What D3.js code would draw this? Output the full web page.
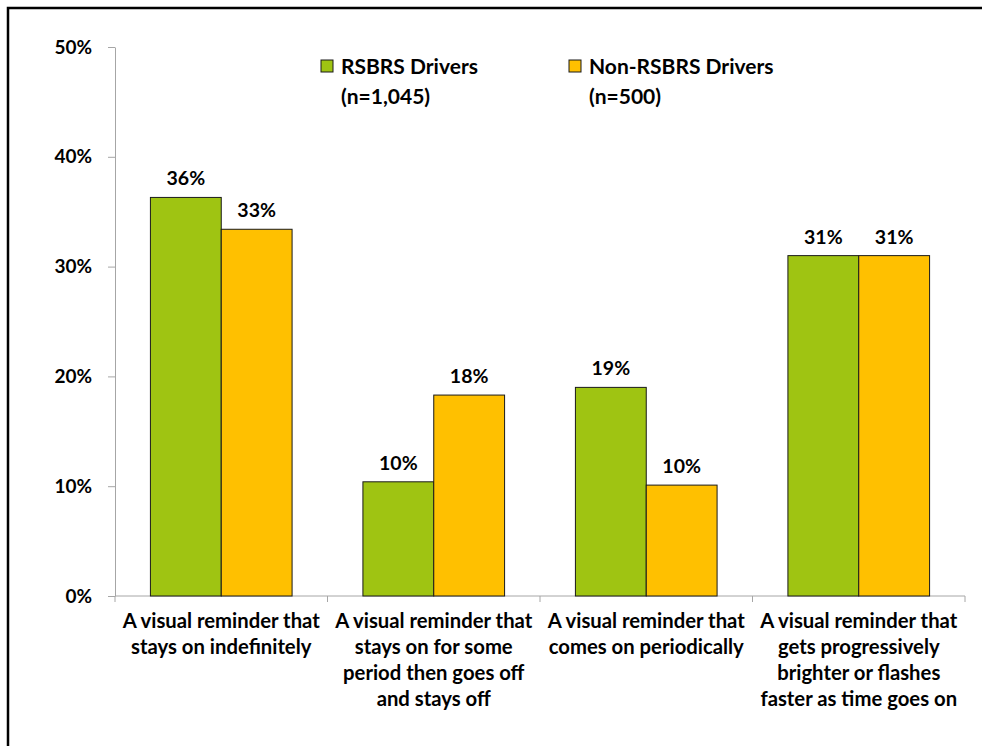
<!DOCTYPE html>
<html>
<head>
<meta charset="utf-8">
<script src="https://cdn.jsdelivr.net/npm/d3@7"></script>
<style>
  html, body { margin: 0; padding: 0; background: #fff; }
  svg { display: block; }
  text { font-family: Lato, "Liberation Sans", sans-serif; font-weight: bold; fill: #000; }
</style>
</head>
<body>
<svg id="chart" width="982" height="746"></svg>
<script>
// Reminder types (each label broken into display lines)
const categories = [
  ["A visual reminder that", "stays on indefinitely"],
  ["A visual reminder that", "stays on for some", "period then goes off", "and stays off"],
  ["A visual reminder that", "comes on periodically"],
  ["A visual reminder that", "gets progressively", "brighter or flashes", "faster as time goes on"]
];
const seriesNames = [["RSBRS Drivers", "(n=1,045)"], ["Non-RSBRS Drivers", "(n=500)"]];
const rsbrsValues = [0.363, 0.104, 0.190, 0.310];
const nonRsbrsValues = [0.334, 0.183, 0.101, 0.310];
const yTicks = [0, 0.1, 0.2, 0.3, 0.4, 0.5];
const colors = ["#9FC412", "#FFC000"];

const svg = d3.select("#chart");
const margin = { left: 115, right: 17, top: 47, bottom: 150 };
const width = 982, height = 746;

// outer frame
svg.append("rect")
  .attr("x", 8).attr("y", 8)
  .attr("width", 1000).attr("height", 800)
  .attr("fill", "none").attr("stroke", "#000").attr("stroke-width", 2.5);

const x = d3.scaleBand()
  .domain(d3.range(categories.length))
  .range([margin.left, width - margin.right])
  .paddingInner(1 / 3)
  .paddingOuter(1 / 6);
const xSub = d3.scaleBand().domain([0, 1]).range([0, x.bandwidth()]);
const y = d3.scaleLinear().domain([0, 0.5]).range([height - margin.bottom, margin.top]);

// y axis
const yAxis = svg.append("g")
  .attr("transform", `translate(${margin.left},0)`)
  .call(d3.axisLeft(y).tickValues(yTicks).tickFormat(d3.format(".0%")).tickSizeInner(7).tickSizeOuter(0).tickPadding(16));
yAxis.select(".domain").attr("stroke", "#A6A6A6");
yAxis.selectAll(".tick line").attr("stroke", "#A6A6A6");
yAxis.selectAll("text").attr("font-size", 19).style("font-family", "Lato, sans-serif").style("font-weight", "bold");

// x axis line with boundary ticks between categories
const step = x.step();
const boundaries = d3.range(categories.length + 1).map(i => margin.left + i * step);
svg.append("line")
  .attr("x1", margin.left).attr("x2", boundaries[boundaries.length - 1])
  .attr("y1", y(0)).attr("y2", y(0))
  .attr("stroke", "#A6A6A6");
svg.selectAll(".xtick").data(boundaries).join("line")
  .attr("x1", d => d).attr("x2", d => d)
  .attr("y1", y(0)).attr("y2", y(0) + 6)
  .attr("stroke", "#A6A6A6");

// bars
const series = [rsbrsValues, nonRsbrsValues];
series.forEach((vals, s) => {
  const g = svg.append("g");
  g.selectAll("rect").data(vals).join("rect")
    .attr("x", (d, i) => x(i) + xSub(s))
    .attr("y", d => y(d))
    .attr("width", xSub.bandwidth())
    .attr("height", d => y(0) - y(d))
    .attr("fill", colors[s])
    .attr("stroke", "#1a1a1a")
    .attr("stroke-width", 1);
  g.selectAll("text").data(vals).join("text")
    .attr("x", (d, i) => x(i) + xSub(s) + xSub.bandwidth() / 2)
    .attr("y", d => y(d) - 12)
    .attr("text-anchor", "middle")
    .attr("font-size", 19.5)
    .text(d => d3.format(".0%")(d));
});

// category labels
const catG = svg.append("g");
categories.forEach((lines, i) => {
  const t = catG.append("text")
    .attr("x", x(i) + x.bandwidth() / 2)
    .attr("y", y(0) + 32)
    .attr("text-anchor", "middle")
    .attr("font-size", 20.3);
  lines.forEach((ln, j) => {
    t.append("tspan").attr("x", x(i) + x.bandwidth() / 2).attr("dy", j === 0 ? 0 : 26).text(ln);
  });
});

// legend
const legendX = [321, 569];
seriesNames.forEach((name, s) => {
  const g = svg.append("g").attr("transform", `translate(${legendX[s]},60)`);
  g.append("rect").attr("width", 12).attr("height", 12)
    .attr("fill", colors[s]).attr("stroke", "#1a1a1a").attr("stroke-width", 1);
  const t = g.append("text").attr("x", 20).attr("y", 14).attr("font-size", 21);
  name.forEach((ln, j) => {
    t.append("tspan").attr("x", 20).attr("dy", j === 0 ? 0 : 30).text(ln);
  });
});
</script>
</body>
</html>
